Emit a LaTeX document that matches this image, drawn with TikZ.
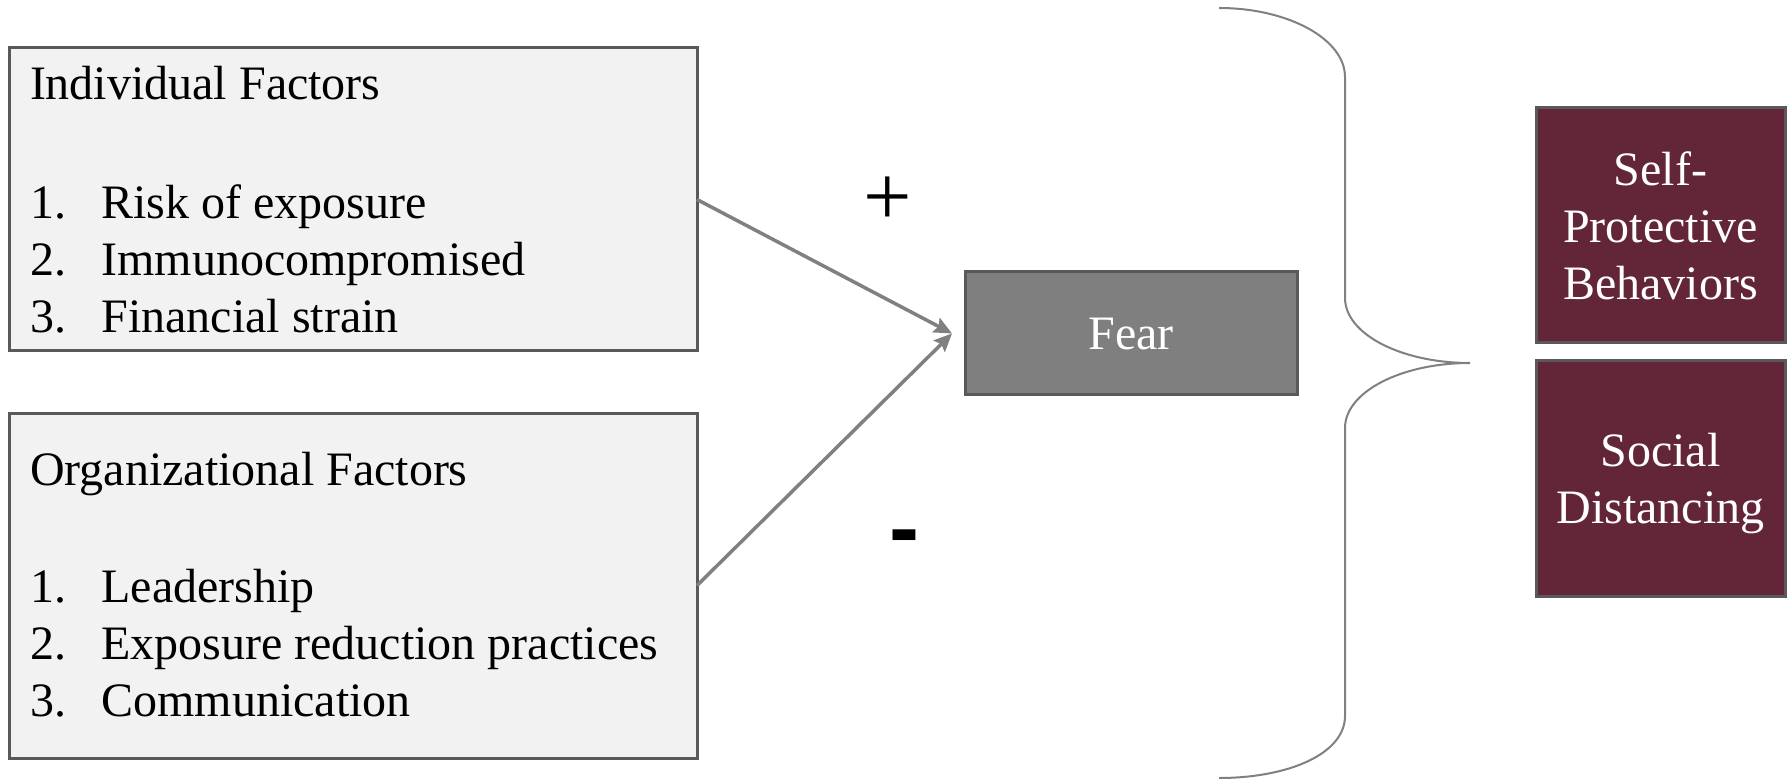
\documentclass[tikz,border=0pt]{standalone}
\usepackage{fontspec}
\setmainfont{Liberation Serif}
\newfontfamily\minusfont{Liberation Sans}[BoldFont={* Bold}]
\usetikzlibrary{arrows.meta,calc}

\definecolor{boxfill}{HTML}{F2F2F2}
\definecolor{boxline}{HTML}{595959}
\definecolor{fearfill}{HTML}{7F7F7F}
\definecolor{maroon}{HTML}{632639}
\definecolor{linkgray}{HTML}{808080}

\tikzset{
  factorbox/.style={draw=boxline, fill=boxfill, line width=1.5pt,
    rectangle, inner sep=0pt, outer sep=0pt},
  fearbox/.style={draw=boxline, fill=fearfill, line width=1.5pt,
    rectangle, inner sep=0pt, outer sep=0pt, text=white,
    font=\fontsize{24pt}{28.5pt}\selectfont},
  outcomebox/.style={draw=boxline, fill=maroon, line width=1.5pt,
    rectangle, inner sep=0pt, outer sep=0pt, text=white, align=center,
    minimum width=124.5pt, minimum height=117.5pt,
    font=\fontsize{24pt}{28.5pt}\selectfont},
  listtext/.style={anchor=base west, inner sep=0pt,
    font=\fontsize{24pt}{28.5pt}\selectfont},
  plustext/.style={anchor=base, inner sep=0pt,
    font=\fontsize{43pt}{48pt}\selectfont},
  minustext/.style={anchor=base, inner sep=0pt,
    font=\minusfont\bfseries\fontsize{45pt}{50pt}\selectfont},
  link/.style={draw=linkgray, line width=1.75pt,
    -{Stealth[length=9pt, width=8pt, inset=1.5pt]}},
  brace/.style={draw=linkgray, line width=1pt}
}

\newcommand{\itemno}[1]{\makebox[35.7pt][l]{#1}}

\begin{document}
\begin{tikzpicture}[x=0.5pt, y=-0.5pt]
  \useasboundingbox (0,0) rectangle (1787,780);

  % factor boxes
  \node[factorbox, minimum width=344pt, minimum height=151.5pt] (indiv) at (353,199.5) {};
  \node[factorbox, minimum width=344pt, minimum height=172.5pt] (org) at (353,585.5) {};

  \node[listtext] (indivtext) at (29.6,100) {%
    \begin{tabular}[t]{@{}l@{}}
      Individual Factors\\
      \\[2.5pt]
      \itemno{1.}Risk of exposure\\
      \itemno{2.}Immunocompromised\\
      \itemno{3.}Financial strain
    \end{tabular}};

  \node[listtext] (orgtext) at (29.6,485.5) {%
    \begin{tabular}[t]{@{}l@{}}
      Organizational Factors\\
      \\[1.5pt]
      \itemno{1.}Leadership\\
      \itemno{2.}Exposure reduction practices\\
      \itemno{3.}Communication
    \end{tabular}};

  % mediator
  \node[fearbox, minimum width=166pt, minimum height=61.5pt, text depth=0pt]
    (fear) at (1131,333.5) {Fear};
  \coordinate (fearin) at ($(fear.west)+(-13,0)$);

  \draw[link] (indiv.east) -- (fearin);
  \draw[link] (org.east) -- (fearin);

  % signs of the effects
  \node[plustext] (plus) at (888,226) {+};
  \node[minustext] (minus) at (904,558) {-};

  % brace gathering the outcomes
  \draw[brace] (1219,8) .. controls (1288,8) and (1345,39) .. (1345,77)
    -- (1345,298) .. controls (1345,334) and (1401,363) .. (1470,363)
    .. controls (1401,363) and (1345,392) .. (1345,428)
    -- (1345,716) .. controls (1345,754) and (1288,778) .. (1219,778);

  % outcomes
  \node[outcomebox] (selfprot) at (1660.5,225.5) {Self-\\Protective\\Behaviors};
  \node[outcomebox, text depth=0pt] (socdist) at (1660.5,478.5) {Social\\Distancing};
\end{tikzpicture}
\end{document}
